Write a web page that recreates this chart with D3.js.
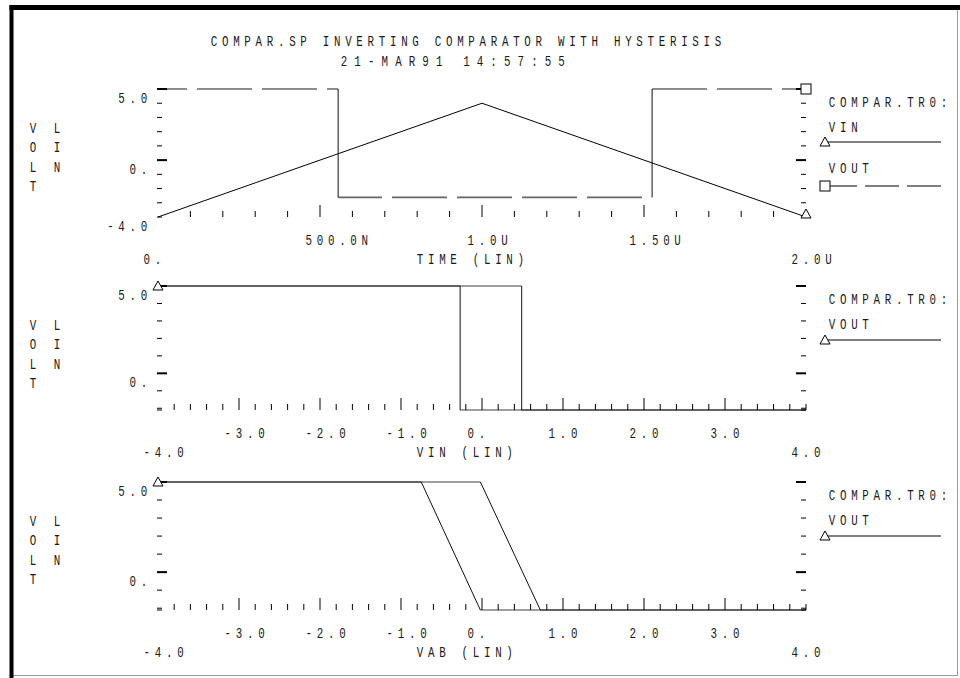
<!DOCTYPE html>
<html><head><meta charset="utf-8">
<script src="https://cdn.jsdelivr.net/npm/d3@7"></script>
<style>html,body{margin:0;padding:0;background:#fff;} svg{display:block}</style>
</head><body><svg id="c" width="960" height="678"></svg>
<script>
// ---------------- data ----------------
const titleLine = "COMPAR.SP INVERTING COMPARATOR WITH HYSTERISIS";
const dateLine = "21-MAR91 14:57:55";
const legendFile = "COMPAR.TR0:";
const yAxisWords = ["VOLT", "LIN"];

// plot 1 : transient, time in microseconds
const tranTime = [0, 1.0, 2.0];
const tranVin  = [-4.0, 4.0, -4.0];
const tranVoutTime = [0, 0.556, 0.556, 1.525, 1.525, 2.0];
const tranVout     = [5.0, 5.0, -2.62, -2.62, 5.0, 5.0];
const timeTickValues = [0.5, 1.0, 1.5];
const timeTickLabels = ["500.0N", "1.0U", "1.50U"];
const timeEndLabels  = ["0.", "2.0U"];
const tranYLabels = [[5, "5.0"], [0, "0."], [-4, "-4.0"]];

// plot 2 : VOUT vs VIN (hysteresis loop)
const vinUp    = [-4.0, 0.49, 0.49, 4.0];
const voutUp   = [5.0, 5.0, -2.1, -2.1];
const vinDown  = [4.0, -0.27, -0.27, -4.0];
const voutDown = [-2.1, -2.1, 5.0, 5.0];

// plot 3 : VOUT vs VAB
const vabA  = [-4.0, -0.75, -0.02, 4.0];
const voutA = [5.0, 5.0, -2.1, -2.1];
const vabB  = [-4.0, -0.02, 0.72, 4.0];
const voutB = [5.0, 5.0, -2.1, -2.1];

const sweepTickValues = [-3, -2, -1, 0, 1, 2, 3];
const sweepTickLabels = ["-3.0", "-2.0", "-1.0", "0.", "1.0", "2.0", "3.0"];
const sweepEndLabels  = ["-4.0", "4.0"];
const sweepYLabels = [[5, "5.0"], [0, "0."]];

// ---------------- layout ----------------
const svg = d3.select("#c");
const X0 = 158, X1 = 806;
const PITCH = 11.2;
const FONT = "'Liberation Mono', 'DejaVu Sans Mono', monospace";

function label(g, x, y, s, align, pitch) {
  const p = pitch || PITCH;
  const n = s.length;
  let c0 = x;
  if (align === "end") c0 = x - (n - 1) * p;
  if (align === "middle") c0 = x - (n - 1) * p / 2;
  for (let i = 0; i < n; i++) {
    const ch = s[i];
    if (ch === " ") continue;
    g.append("text")
      .attr("transform", `translate(${c0 + i * p},${y + 5.5}) scale(0.7,1)`)
      .attr("text-anchor", "middle")
      .attr("font-family", FONT)
      .attr("font-size", 15.5)
      .attr("fill", "#1a1a1a")
      .text(ch);
  }
}

function triangle(g, x, y) {
  g.append("path").attr("d", `M${x},${y - 5}L${x + 5},${y + 4}L${x - 5},${y + 4}Z`)
    .attr("fill", "#fff").attr("stroke", "#000").attr("stroke-width", 1);
}
function square(g, x, y) {
  g.append("rect").attr("x", x - 5).attr("y", y - 5).attr("width", 10).attr("height", 10)
    .attr("fill", "#fff").attr("stroke", "#000").attr("stroke-width", 1);
}

// frame
svg.append("rect").attr("x", 11).attr("y", 7).attr("width", 946.5).attr("height", 668.5)
  .attr("fill", "none").attr("stroke", "#999").attr("stroke-width", 1);
svg.append("rect").attr("x", 9.5).attr("y", 5).attr("width", 950.5).attr("height", 5).attr("fill", "#000");
svg.append("rect").attr("x", 9.5).attr("y", 5).attr("width", 4).attr("height", 673).attr("fill", "#000");

// title
const tg = svg.append("g");
label(tg, 214, 40, titleLine, "start");
label(tg, 344, 60, dateLine, "start", 13.6);

function frameAxes(g, y, yTickVals, majorVals) {
  yTickVals.forEach(v => {
    const yy = y(v);
    const major = majorVals.includes(v);
    const len = major ? 10 : 5;
    g.append("line").attr("x1", X0 - 1).attr("x2", X0 - 1 + len).attr("y1", yy).attr("y2", yy)
      .attr("stroke", "#000").attr("stroke-width", major ? 2 : 1);
    g.append("line").attr("x1", X1 - len).attr("x2", X1).attr("y1", yy).attr("y2", yy)
      .attr("stroke", "#000").attr("stroke-width", major ? 2 : 1);
  });
}

function yAxisWordsAt(g, top) {
  const w0 = yAxisWords[0], w1 = yAxisWords[1];
  for (let i = 0; i < w0.length; i++) label(g, 33, top + 38 + i * 19.5, w0[i], "start");
  for (let i = 0; i < w1.length; i++) label(g, 57, top + 38 + i * 19.5, w1[i], "start");
}

function xTicks(g, x, bottom, vals, majorFn) {
  vals.forEach(v => {
    const major = majorFn(v);
    g.append("line").attr("x1", x(v)).attr("x2", x(v)).attr("y1", bottom).attr("y2", bottom - (major ? 12 : 6))
      .attr("stroke", "#000").attr("stroke-width", 1);
  });
}

// draws polyline segment-by-segment: horizontals as soft gray (darker where overlapping), others thin black
function curve(g, pts, dashFn) {
  for (let i = 0; i < pts.length - 1; i++) {
    const [xa, ya] = pts[i], [xb, yb] = pts[i + 1];
    const horiz = Math.abs(yb - ya) < 0.5;
    const ln = g.append("line").attr("x1", xa).attr("x2", xb).attr("y1", ya).attr("y2", yb)
      .attr("stroke", "#000")
      .attr("stroke-width", horiz ? 1.7 : 1)
      .attr("stroke-opacity", horiz ? 0.5 : 0.95);
    if (horiz && dashFn) dashFn(ln, Math.min(xa, xb));
  }
}

// ---------- Plot 1 ----------
{
  const top = 89, bottom = 217;
  const g = svg.append("g");
  const x = d3.scaleLinear().domain([0, 2.0]).range([X0, X1]);
  const y = d3.scaleLinear().domain([-4, 5]).range([bottom, top]);
  frameAxes(g, y, d3.range(-4, 6), [5, 0]);
  const minor = d3.range(1, 20).map(k => k / 10);
  xTicks(g, x, bottom, minor, v => Math.abs(v * 2 - Math.round(v * 2)) < 1e-6);
  yAxisWordsAt(g, top);
  tranYLabels.forEach(([v, s]) => label(g, 144, y(v) + 8, s, "end"));
  timeTickValues.forEach((v, i) => label(g, x(v) - PITCH, bottom + 22, timeTickLabels[i], "start"));
  label(g, x(0) - PITCH, bottom + 41, timeEndLabels[0], "start");
  label(g, x(2) - PITCH, bottom + 41, timeEndLabels[1], "start");
  label(g, 420, bottom + 41, "TIME (LIN)", "start");

  // VIN
  const vinPts = tranTime.map((t, i) => [x(t), y(tranVin[i])]);
  g.append("path").attr("d", d3.line()(vinPts)).attr("fill", "none").attr("stroke", "#000").attr("stroke-width", 1);
  // VOUT: dashed horizontals, solid verticals
  const per = 65, dash = 55, phaseX = x(0) - 26;
  const voutPts = tranVoutTime.map((t, i) => [x(t), y(tranVout[i])]);
  curve(g, voutPts, (ln, xa) => {
    const off = (((xa - phaseX) % per) + per) % per;
    ln.attr("stroke-dasharray", `${dash},${per - dash}`).attr("stroke-dashoffset", off).attr("stroke-opacity", 0.6);
  });
  const nT = tranTime.length - 1;
  triangle(g, x(tranTime[nT]), y(tranVin[nT]) - 3);
  const nV = tranVoutTime.length - 1;
  square(g, x(tranVoutTime[nV]), y(tranVout[nV]));

  // legend
  label(g, 832, top + 12, legendFile, "start");
  label(g, 832, top + 37, "VIN", "start");
  g.append("line").attr("x1", 825).attr("x2", 941).attr("y1", top + 53).attr("y2", top + 53).attr("stroke", "#000");
  triangle(g, 825, top + 53);
  label(g, 832, top + 78, "VOUT", "start");
  g.append("line").attr("x1", 830).attr("x2", 941).attr("y1", top + 97).attr("y2", top + 97).attr("stroke", "#000")
    .attr("stroke-dasharray", "34,8").attr("stroke-dashoffset", 7);
  square(g, 825, top + 97);
}

// ---------- Plot 2 & 3 ----------
function sweepPlot(top, bottom, xs1, ys1, xs2, ys2, axisName) {
  const g = svg.append("g");
  const x = d3.scaleLinear().domain([-4, 4]).range([X0, X1]);
  const y = d3.scaleLinear().domain([-2.1, 5]).range([bottom, top]);
  frameAxes(g, y, d3.range(-2, 6).concat([-2.1]), [5, 0]);
  const ticks = d3.range(1, 41).map(k => Math.round((-4 + k * 0.2) * 10) / 10);
  xTicks(g, x, bottom, ticks, v => Number.isInteger(v) && Math.abs(v) < 4);
  yAxisWordsAt(g, top);
  sweepYLabels.forEach(([v, s]) => label(g, 144, y(v) + 8, s, "end"));
  sweepTickValues.forEach((v, i) => label(g, x(v) - PITCH, bottom + 22, sweepTickLabels[i], "start"));
  label(g, x(-4) - PITCH, bottom + 41, sweepEndLabels[0], "start");
  label(g, x(4) - PITCH, bottom + 41, sweepEndLabels[1], "start");
  label(g, 420, bottom + 41, axisName, "start");

  [[xs1, ys1], [xs2, ys2]].forEach(([xs, ys]) => {
    curve(g, xs.map((v, i) => [x(v), y(ys[i])]));
  });
  triangle(g, x(-4), y(5));

  label(g, 832, top + 12, legendFile, "start");
  label(g, 832, top + 37, "VOUT", "start");
  g.append("line").attr("x1", 825).attr("x2", 941).attr("y1", top + 54).attr("y2", top + 54).attr("stroke", "#000");
  triangle(g, 825, top + 54);
}
sweepPlot(286, 410, vinUp, voutUp, vinDown, voutDown, "VIN (LIN)");
sweepPlot(482, 610, vabA, voutA, vabB, voutB, "VAB (LIN)");
</script>
</body></html>
